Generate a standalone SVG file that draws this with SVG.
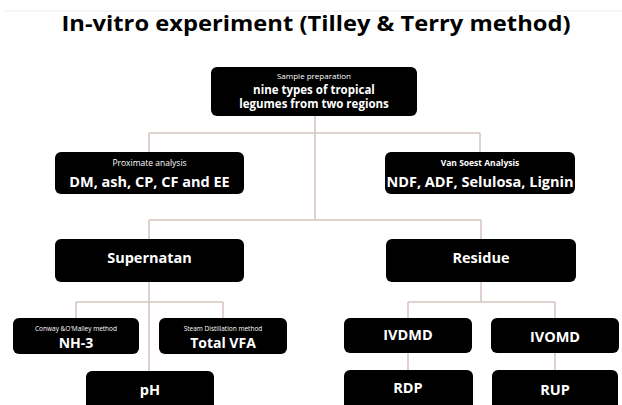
<svg xmlns="http://www.w3.org/2000/svg" width="622" height="405" viewBox="0 0 622 405">
<style>
.box{fill:#000;}
.t{font-family:"Open Sans","Liberation Sans",sans-serif;fill:#fff;text-anchor:middle;}
.b{font-weight:bold;}
.title{font-family:"Open Sans","Liberation Sans",sans-serif;font-weight:bold;font-size:22px;fill:#000;text-anchor:middle;}
.c{fill:none;stroke:#d6c6c2;stroke-width:1.6;}
</style>
<rect width="622" height="405" fill="#fff"/>
<line x1="5" y1="11" x2="622" y2="11" stroke="#eeeeee" stroke-width="1"/>
<text class="title" x="316" y="31" textLength="509" lengthAdjust="spacingAndGlyphs">In-vitro experiment (Tilley &amp; Terry method)</text>
<g id="connectors">
<path class="c" d="M315,116 V220 M149,133 H480 M149,133 V152 M480,133 V152 M149,220 H481 M149,220 V239 M481,220 V239 M149,282 V371 M76,302 H223 M76,302 V318 M223,302 V318 M481,282 V302 M408,302 H555 M408,302 V318 M555,302 V318 M408,353 V370 M555,353 V370"/>
</g>
<g id="sample">
<rect class="box" x="211" y="67" width="206" height="49" rx="6"/>
<text class="t" x="314" y="79" font-size="8">Sample preparation</text>
<text class="t b" x="314" y="94" font-size="11.5">nine types of tropical</text>
<text class="t b" x="314" y="108" font-size="11.5">legumes from two regions</text>
</g>
<g id="proximate">
<rect class="box" x="55" y="152" width="189" height="42" rx="6"/>
<text class="t" x="149.5" y="166" font-size="8.5">Proximate analysis</text>
<text class="t b" x="149.5" y="187" font-size="14.5">DM, ash, CP, CF and EE</text>
</g>
<g id="vansoest">
<rect class="box" x="385" y="152" width="190" height="42" rx="6"/>
<text class="t b" x="480" y="166" font-size="8.5">Van Soest Analysis</text>
<text class="t b" x="480" y="187" font-size="14.5">NDF, ADF, Selulosa, Lignin</text>
</g>
<g id="supernatan">
<rect class="box" x="55" y="239" width="189" height="43" rx="6"/>
<text class="t b" x="149.5" y="263" font-size="14.5">Supernatan</text>
</g>
<g id="residue">
<rect class="box" x="386" y="239" width="190" height="43" rx="6"/>
<text class="t b" x="481" y="263" font-size="14.5">Residue</text>
</g>
<g id="nh3">
<rect class="box" x="13" y="318" width="126" height="36" rx="6"/>
<text class="t" x="76" y="331" font-size="6.5">Conway &amp;O'Malley method</text>
<text class="t b" x="76" y="348" font-size="14">NH-3</text>
</g>
<g id="vfa">
<rect class="box" x="159" y="318" width="128" height="36" rx="6"/>
<text class="t" x="223" y="331" font-size="6.5">Steam Distillation method</text>
<text class="t b" x="223" y="348" font-size="14">Total VFA</text>
</g>
<g id="ph">
<rect class="box" x="86" y="371" width="128" height="45" rx="6"/>
<text class="t b" x="150" y="395" font-size="14.5">pH</text>
</g>
<g id="ivdmd">
<rect class="box" x="344" y="318" width="128" height="35" rx="6"/>
<text class="t b" x="408" y="340" font-size="14.5">IVDMD</text>
</g>
<g id="ivomd">
<rect class="box" x="491" y="318" width="128" height="35" rx="6"/>
<text class="t b" x="555" y="342" font-size="14.5">IVOMD</text>
</g>
<g id="rdp">
<rect class="box" x="344" y="370" width="129" height="45" rx="6"/>
<text class="t b" x="408" y="393" font-size="14.5">RDP</text>
</g>
<g id="rup">
<rect class="box" x="492" y="370" width="126" height="45" rx="6"/>
<text class="t b" x="555" y="395" font-size="14.5">RUP</text>
</g>
</svg>
